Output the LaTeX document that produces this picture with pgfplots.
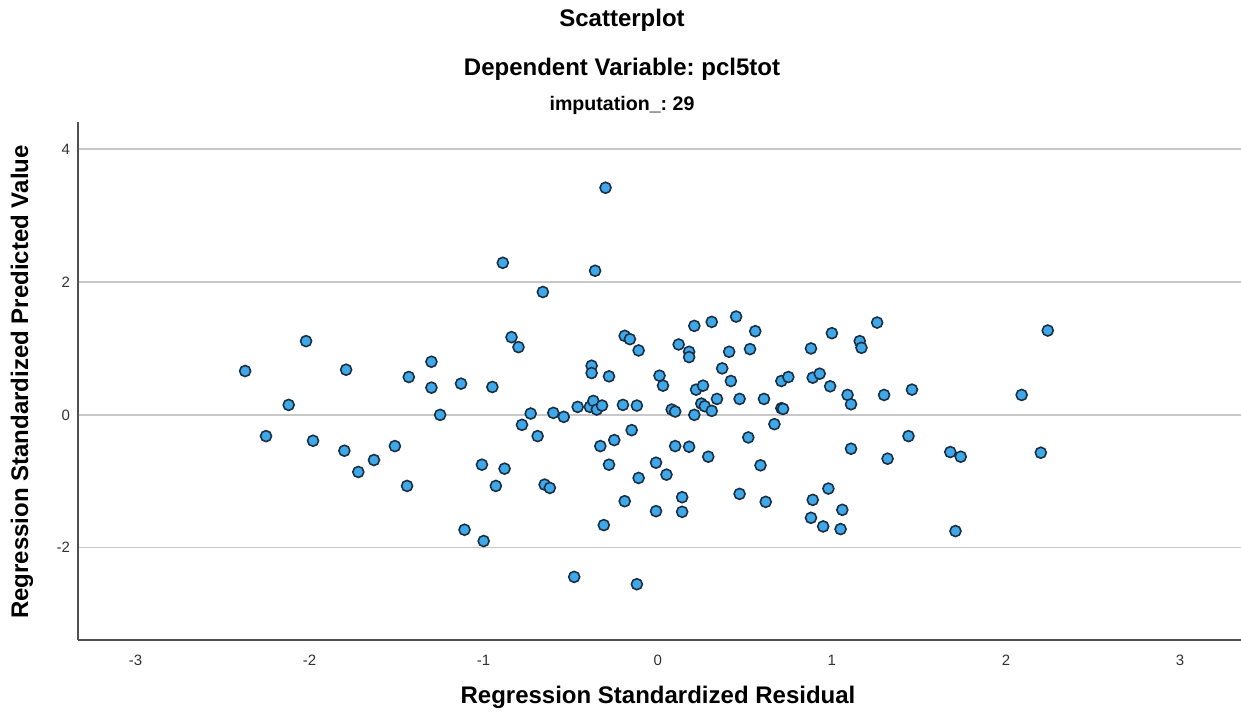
\documentclass[border=0pt]{standalone}
\usepackage{pgfplots}
\pgfplotsset{compat=1.18}
\usepackage{fontspec}
\setmainfont{Liberation Sans}
\frenchspacing
\definecolor{ptfill}{RGB}{62,168,232}
\definecolor{ptedge}{RGB}{28,48,68}
\definecolor{gridc}{RGB}{200,200,200}
\definecolor{axc}{RGB}{80,80,80}
\definecolor{tickc}{RGB}{50,50,50}
\begin{document}
\begin{tikzpicture}
\path[use as bounding box] (-39pt,-38pt) rectangle (581.5pt,320pt);
\begin{axis}[
  at={(0,0)}, anchor=south west,
  scale only axis,
  width=581.5pt, height=259pt,
  xmin=-3.33, xmax=3.35,
  ymin=-3.39, ymax=4.41,
  axis x line*=bottom, axis y line*=left,
  axis line style={axc, line width=0.9pt, -},
  xtick={-3,-2,-1,0,1,2,3},
  ytick={-2,0,2,4},
  major tick length=0pt,
  ymajorgrids,
  grid style={gridc, line width=0.8pt},
  tick label style={font=\fontsize{7.5}{9}\selectfont, text=tickc},
  /pgf/number format/assume math mode=true,
  xticklabel style={yshift=-4pt},
  yticklabel style={xshift=-0.5pt},
  xlabel={Regression Standardized Residual},
  ylabel={Regression Standardized Predicted Value},
  label style={font=\fontsize{12}{14}\selectfont\bfseries},
  xlabel style={at={(axis description cs:0.4987,0)}, anchor=center, yshift=-28.5pt},
  ylabel style={at={(axis description cs:-0.0482,0.498)}, anchor=center},
  clip=false,
]
\addplot[only marks, mark=*, mark size=2.75pt,
  mark options={fill=ptfill, draw=ptedge, line width=0.8pt}]
 table {
x y
-2.37 0.66
-2.02 1.11
-2.25 -0.32
-2.12 0.15
-1.98 -0.39
-1.79 0.68
-1.80 -0.54
-1.72 -0.86
-1.63 -0.68
-1.51 -0.47
-1.44 -1.07
-1.43 0.57
-1.30 0.80
-1.30 0.41
-1.25 0.00
-1.13 0.47
-1.11 -1.73
-1.01 -0.75
-1.00 -1.90
-0.95 0.42
-0.93 -1.07
-0.89 2.29
-0.88 -0.81
-0.84 1.17
-0.80 1.02
-0.78 -0.15
-0.73 0.02
-0.69 -0.32
-0.65 -1.05
-0.62 -1.10
-0.66 1.85
-0.60 0.03
-0.54 -0.03
-0.48 -2.44
-0.46 0.12
-0.39 0.12
-0.37 0.21
-0.35 0.08
-0.32 0.14
-0.38 0.74
-0.38 0.63
-0.36 2.17
-0.30 3.42
-0.33 -0.47
-0.31 -1.66
-0.28 -0.75
-0.28 0.58
-0.25 -0.38
-0.20 0.15
-0.19 -1.30
-0.19 1.19
-0.16 1.14
-0.15 -0.23
-0.12 0.14
-0.11 0.97
-0.11 -0.95
-0.12 -2.55
-0.01 -0.72
-0.01 -1.45
0.01 0.59
0.03 0.44
0.05 -0.90
0.08 0.08
0.10 0.05
0.12 1.06
0.10 -0.47
0.14 -1.24
0.14 -1.46
0.18 0.95
0.18 0.87
0.18 -0.48
0.21 0.00
0.21 1.34
0.22 0.38
0.25 0.17
0.26 0.44
0.27 0.13
0.29 -0.63
0.31 0.06
0.31 1.40
0.34 0.24
0.37 0.70
0.41 0.95
0.42 0.51
0.45 1.48
0.47 0.24
0.47 -1.19
0.52 -0.34
0.53 0.99
0.56 1.26
0.59 -0.76
0.61 0.24
0.62 -1.31
0.67 -0.14
0.71 0.51
0.71 0.10
0.72 0.09
0.75 0.57
0.88 1.00
0.88 -1.55
0.89 -1.28
0.89 0.56
0.93 0.62
0.95 -1.68
0.98 -1.11
0.99 0.43
1.00 1.23
1.05 -1.72
1.06 -1.43
1.09 0.30
1.11 0.16
1.11 -0.51
1.16 1.11
1.17 1.01
1.26 1.39
1.30 0.30
1.32 -0.66
1.44 -0.32
1.46 0.38
1.68 -0.56
1.71 -1.75
1.74 -0.63
2.09 0.30
2.20 -0.57
2.24 1.27
};
\end{axis}
\node[font=\fontsize{12}{14}\selectfont\bfseries] at (272pt,310pt) {Scatterplot};
\node[font=\fontsize{12}{14}\selectfont\bfseries] at (272pt,285.5pt) {Dependent Variable: pcl5tot};
\node[font=\fontsize{9.8}{11}\selectfont\bfseries] at (272pt,267.5pt) {imputation\_: 29};
\end{tikzpicture}
\end{document}
